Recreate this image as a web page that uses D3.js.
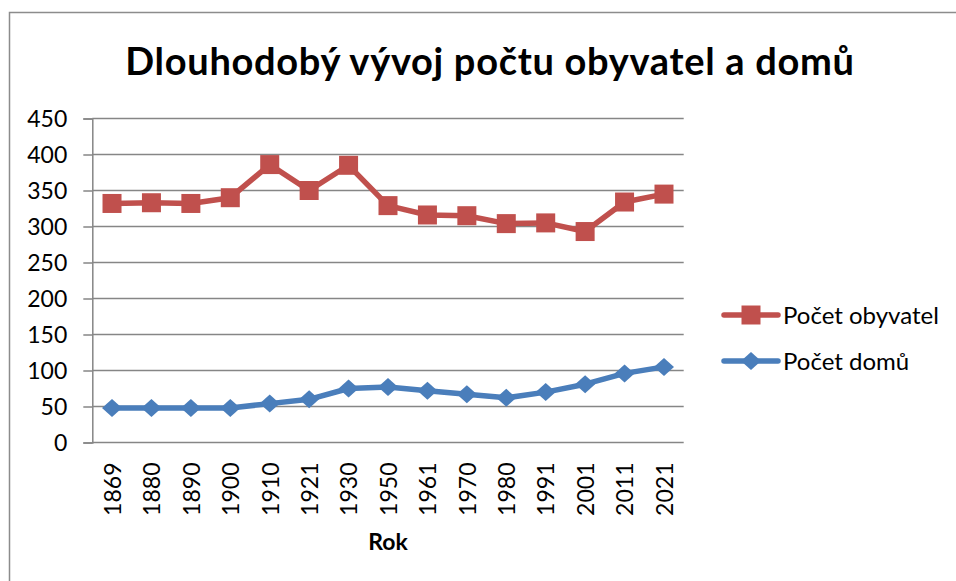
<!DOCTYPE html>
<html>
<head>
<meta charset="utf-8">
<script src="https://cdn.jsdelivr.net/npm/d3@7"></script>
<style>
  body { margin: 0; background: #fff; }
  text { font-family: Lato, "Open Sans", sans-serif; fill: #000; }
</style>
</head>
<body>
<script>
var years = ["1869", "1880", "1890", "1900", "1910", "1921", "1930", "1950", "1961", "1970", "1980", "1991", "2001", "2011", "2021"];
var obyvatel = [332, 333, 332, 340, 386, 350, 385, 329, 316, 315, 304, 305, 293, 334, 345];
var domu = [48, 48, 48, 48, 54, 60, 75, 77, 72, 67, 62, 70, 81, 96, 105];
var yTicks = [0, 50, 100, 150, 200, 250, 300, 350, 400, 450];
var seriesNames = ["Počet obyvatel", "Počet domů"];

var width = 956, height = 581;
var plot = { left: 92.3, right: 683.7, top: 118.5, bottom: 442.5 };

var svg = d3.select("body")
    .append("svg")
    .attr("width", width)
    .attr("height", height);

// chart frame
svg.append("rect")
    .attr("x", 9.5)
    .attr("y", 12.5)
    .attr("width", 960)
    .attr("height", 600)
    .attr("fill", "none")
    .attr("stroke", "#8c8c8c")
    .attr("stroke-width", 1.5);

svg.append("text")
    .attr("x", 490)
    .attr("y", 75)
    .attr("text-anchor", "middle")
    .style("font-size", "38px")
    .style("letter-spacing", "0.7px")
    .style("font-weight", "bold")
    .text("Dlouhodobý vývoj počtu obyvatel a domů");

var x = d3.scalePoint()
    .domain(years)
    .range([plot.left, plot.right])
    .padding(0.5);

var y = d3.scaleLinear()
    .domain([0, 450])
    .range([plot.bottom, plot.top]);

// gridlines + y axis
var yAxis = svg.append("g")
    .attr("transform", "translate(" + plot.left + ",0)")
    .call(d3.axisLeft(y).tickValues(yTicks).tickSize(9).tickPadding(16));
yAxis.select(".domain").attr("stroke", "#868686").attr("stroke-width", 1.5);
yAxis.selectAll(".tick line").attr("stroke", "#868686").attr("stroke-width", 1.5);
yAxis.selectAll(".tick text")
    .style("font-size", "23px")
    .style("font-family", "Lato, sans-serif")
    .attr("dy", "0.36em");

svg.append("g")
    .selectAll("line")
    .data(yTicks)
    .enter().append("line")
    .attr("x1", plot.left)
    .attr("x2", plot.right)
    .attr("y1", d => y(d))
    .attr("y2", d => y(d))
    .attr("stroke", "#868686")
    .attr("stroke-width", 1.5);

// x axis labels (rotated)
var xAxis = svg.append("g")
    .attr("transform", "translate(0," + plot.bottom + ")")
    .call(d3.axisBottom(x).tickSize(0).tickPadding(0));
xAxis.select(".domain").remove();
xAxis.selectAll(".tick text")
    .style("font-size", "23px")
    .style("font-family", "Lato, sans-serif")
    .attr("text-anchor", "end")
    .attr("transform", "rotate(-90)")
    .attr("x", -20)
    .attr("y", 0)
    .attr("dy", "0.36em");

svg.append("text")
    .attr("x", (plot.left + plot.right) / 2)
    .attr("y", 550)
    .attr("text-anchor", "middle")
    .style("font-size", "23px")
    .style("font-weight", "bold")
    .text("Rok");

var line = d3.line()
    .x((d, i) => x(years[i]))
    .y(d => y(d));

var red = "#c0504d", blue = "#4a7ebb";
var diamond = "M0,-9L10,0L0,9L-10,0Z";

svg.append("path")
    .datum(obyvatel)
    .attr("d", line)
    .attr("fill", "none")
    .attr("stroke", red)
    .attr("stroke-width", 5.5)
    .attr("stroke-linejoin", "round");

svg.append("g")
    .selectAll("rect")
    .data(obyvatel)
    .enter().append("rect")
    .attr("x", (d, i) => x(years[i]) - 9.5)
    .attr("y", d => y(d) - 9.5)
    .attr("width", 19)
    .attr("height", 19)
    .attr("fill", red);

svg.append("path")
    .datum(domu)
    .attr("d", line)
    .attr("fill", "none")
    .attr("stroke", blue)
    .attr("stroke-width", 5.5)
    .attr("stroke-linejoin", "round");

svg.append("g")
    .selectAll("path")
    .data(domu)
    .enter().append("path")
    .attr("d", diamond)
    .attr("transform", (d, i) => "translate(" + x(years[i]) + "," + y(d) + ")")
    .attr("fill", blue);

// legend
var legend = svg.append("g")
    .selectAll("g")
    .data(seriesNames)
    .enter().append("g")
    .attr("transform", (d, i) => "translate(724," + (315 + i * 46) + ")");

legend.append("line")
    .attr("x1", 0).attr("x2", 54)
    .attr("stroke", (d, i) => i === 0 ? red : blue)
    .attr("stroke-width", 5.5)
    .attr("stroke-linecap", "round");

legend.append("path")
    .attr("d", (d, i) => i === 0 ? "M-9.5,-9.5H9.5V9.5H-9.5Z" : diamond)
    .attr("transform", "translate(27,0)")
    .attr("fill", (d, i) => i === 0 ? red : blue);

legend.append("text")
    .attr("x", 59)
    .attr("y", 0)
    .attr("dy", "0.36em")
    .style("font-size", "24px")
    .text(d => d);
</script>
</body>
</html>
